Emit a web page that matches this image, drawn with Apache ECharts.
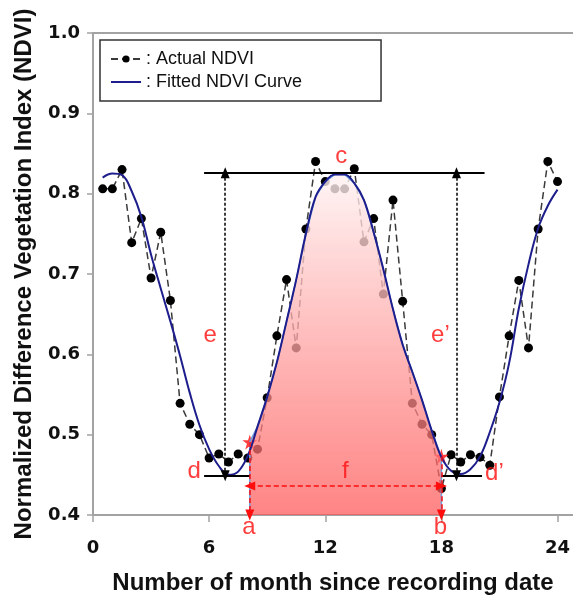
<!DOCTYPE html>
<html>
<head>
<meta charset="utf-8">
<script src="https://cdn.jsdelivr.net/npm/echarts@6/dist/echarts.min.js"></script>
<style>
  html, body { margin: 0; padding: 0; background: #fff; }
  #chart { width: 573px; height: 596px; }
</style>
</head>
<body>
<div id="chart"></div>
<script>
// months since recording date (half-month steps)
const months = [0.5, 1, 1.5, 2, 2.5, 3, 3.5, 4, 4.5, 5, 5.5, 6,
  6.5, 7, 7.5, 8, 8.5, 9, 9.5, 10, 10.5, 11, 11.5, 12,
  12.5, 13, 13.5, 14, 14.5, 15, 15.5, 16, 16.5, 17, 17.5, 18,
  18.5, 19, 19.5, 20, 20.5, 21, 21.5, 22, 22.5, 23, 23.5, 24];

// actual NDVI (black dots)
const actualNdvi = [0.806, 0.806, 0.830, 0.739, 0.769, 0.695, 0.752, 0.667, 0.539, 0.513, 0.500, 0.471,
  0.476, 0.466, 0.476, 0.471, 0.482, 0.546, 0.623, 0.693, 0.608, 0.756, 0.840, 0.815,
  0.806, 0.806, 0.831, 0.740, 0.769, 0.675, 0.792, 0.666, 0.539, 0.513, 0.500, 0.433,
  0.475, 0.466, 0.475, 0.472, 0.462, 0.547, 0.623, 0.692, 0.608, 0.756, 0.840, 0.815];

// fitted NDVI curve
const fittedNdvi = [0.820, 0.825, 0.823, 0.803, 0.771, 0.724, 0.682, 0.641, 0.598, 0.552, 0.512, 0.482,
  0.461, 0.450, 0.454, 0.474, 0.510, 0.547, 0.590, 0.641, 0.693, 0.750, 0.796, 0.815,
  0.824, 0.824, 0.813, 0.792, 0.752, 0.706, 0.656, 0.612, 0.578, 0.543, 0.505, 0.472,
  0.455, 0.451, 0.457, 0.473, 0.503, 0.540, 0.589, 0.657, 0.712, 0.757, 0.785, 0.805];

// season markers
const seasonStart = 8.1;      // a
const seasonEnd = 18;         // b
const startNdvi = 0.491;      // star at a
const endNdvi = 0.473;        // star at b
const peakNdvi = 0.826;       // c
const baseNdvi = 0.449;       // d, d'
const amplitudeLeft = 6.83;   // e
const amplitudeRight = 18.78; // e'
const lengthNdvi = 0.436;     // f arrow

const labelNames = ['c', 'e', 'e\u2019', 'd', 'd\u2019', 'f', 'a', 'b'];
const labelMonths = [12.83, 6.06, 17.95, 5.23, 20.74, 13.04, 8.05, 17.95];
const labelNdvi = [0.847, 0.623, 0.623, 0.454, 0.452, 0.454, 0.385, 0.385];

const yTicks = [0.4, 0.5, 0.6, 0.7, 0.8, 0.9, 1.0];

const red = '#ff0d0d';
const navy = '#1d1d8c';
const axisGray = '#a3a3a3';

// fill polygon for the growing season under the fitted curve
const fillData = [[seasonStart, yTicks[0]], [seasonStart, startNdvi]];
months.forEach((m, i) => {
  if (m > seasonStart && m <= seasonEnd) fillData.push([m, fittedNdvi[i]]);
});
fillData.push([seasonEnd, yTicks[0]]);

function seg(x1, y1, x2, y2, s1, s2) {
  return [{ coord: [x1, y1], symbol: s1 || 'none' }, { coord: [x2, y2], symbol: s2 || 'none' }];
}

const chart = echarts.init(document.getElementById('chart'));
chart.setOption({
  animation: false,
  grid: { left: 93, right: 0, top: 33, bottom: 81, containLabel: false, outerBoundsMode: 'none' },
  legend: {
    data: [
      { name: 'Actual NDVI' },
      { name: 'Fitted NDVI Curve', icon: 'path://M0,0 L30,0 L30,2 L0,2 Z' }
    ],
    orient: 'vertical',
    left: 100,
    top: 40,
    padding: [10, 79, 10, 10],
    itemWidth: 30,
    itemHeight: 9,
    itemGap: 5,
    borderColor: '#333',
    borderWidth: 1.5,
    formatter: ': {name}',
    textStyle: { fontFamily: 'Liberation Sans', fontSize: 18, color: '#111' }
  },
  xAxis: [{
    type: 'value',
    min: 0,
    max: 24.8,
    interval: 6,
    name: 'Number of month since recording date',
    nameLocation: 'middle',
    nameGap: 56,
    nameTextStyle: { fontFamily: 'Liberation Sans', fontWeight: 'bold', fontSize: 24, color: '#111' },
    axisLine: { lineStyle: { color: axisGray, width: 2 } },
    axisTick: { length: 7, lineStyle: { color: axisGray, width: 1.5 } },
    axisLabel: { showMaxLabel: false, margin: 24, fontFamily: 'DejaVu Sans', fontWeight: 'bold', fontSize: 18, color: '#111' },
    splitLine: { show: false }
  }, {
    type: 'value',
    position: 'top',
    min: 0,
    max: 24.8,
    axisLine: { show: true, lineStyle: { color: axisGray, width: 2 } },
    axisTick: { show: false },
    axisLabel: { show: false },
    splitLine: { show: false }
  }],
  yAxis: {
    type: 'value',
    min: yTicks[0],
    max: yTicks[yTicks.length - 1],
    interval: 0.1,
    name: 'Normalized Difference Vegetation Index (NDVI)',
    nameLocation: 'middle',
    nameGap: 57,
    nameTextStyle: { fontFamily: 'Liberation Sans', fontWeight: 'bold', fontSize: 24, color: '#111' },
    axisLine: { show: true, lineStyle: { color: axisGray, width: 2 } },
    axisTick: { show: true, length: 6, lineStyle: { color: axisGray, width: 1.5 } },
    axisLabel: { margin: 13, formatter: v => v.toFixed(1), fontFamily: 'DejaVu Sans', fontWeight: 'bold', fontSize: 18, color: '#111' },
    splitLine: { show: false }
  },
  series: [
    {
      name: 'Actual NDVI',
      type: 'line',
      z: 2,
      data: months.map((m, i) => [m, actualNdvi[i]]),
      symbol: 'circle',
      symbolSize: 9,
      itemStyle: { color: '#000' },
      lineStyle: { color: '#3a3a3a', width: 1.5, type: [7, 4] }
    },
    {
      name: 'stars',
      type: 'scatter',
      z: 2,
      data: [[seasonStart, startNdvi], [seasonEnd, endNdvi]],
      symbol: 'path://M50,0 L61,35 L98,35 L68,57 L79,91 L50,70 L21,91 L32,57 L2,35 L39,35 Z',
      symbolSize: 15,
      itemStyle: { color: red }
    },
    {
      name: 'season',
      type: 'line',
      z: 3,
      silent: true,
      data: fillData,
      symbol: 'none',
      lineStyle: { color: '#6f9fe0', width: 1.5 },
      areaStyle: {
        opacity: 1,
        color: {
          type: 'linear', x: 0, y: 0, x2: 0, y2: 1,
          colorStops: [
            { offset: 0, color: 'rgba(255,242,242,0.8)' },
            { offset: 1, color: 'rgba(255,85,85,0.72)' }
          ]
        }
      }
    },
    {
      name: 'Fitted NDVI Curve',
      type: 'line',
      z: 4,
      data: months.map((m, i) => [m, fittedNdvi[i]]),
      smooth: 0.4,
      symbol: 'none',
      itemStyle: { color: navy },
      lineStyle: { color: navy, width: 2 }
    },
    {
      name: 'black marks',
      type: 'line',
      z: 5,
      data: [],
      markLine: {
        silent: true,
        animation: false,
        label: { show: false },
        lineStyle: { color: '#000', width: 2, type: 'solid' },
        data: [
          seg(5.74, peakNdvi, 20.23, peakNdvi),
          seg(5.74, baseNdvi, seasonStart, baseNdvi),
          seg(seasonEnd, baseNdvi, 20.1, baseNdvi)
        ]
      }
    },
    {
      name: 'amplitude marks',
      type: 'line',
      z: 5,
      data: [],
      markLine: {
        silent: true,
        animation: false,
        symbolSize: [9, 11],
        label: { show: false },
        lineStyle: { color: '#000', width: 1.5, type: [3, 2] },
        data: [
          seg(amplitudeLeft, baseNdvi, amplitudeLeft, peakNdvi, 'triangle', 'triangle'),
          seg(amplitudeRight, baseNdvi, amplitudeRight, peakNdvi, 'triangle', 'triangle')
        ]
      }
    },
    {
      name: 'red marks',
      type: 'line',
      z: 5,
      data: [],
      markLine: {
        silent: true,
        animation: false,
        symbolSize: [9, 11],
        label: { show: false },
        lineStyle: { color: red, width: 1.5, type: [5, 3] },
        data: [
          seg(seasonStart, lengthNdvi, seasonEnd, lengthNdvi, 'triangle', 'triangle'),
          seg(seasonStart, startNdvi, seasonStart, yTicks[0], 'none', 'triangle'),
          seg(seasonEnd, endNdvi, seasonEnd, yTicks[0], 'none', 'triangle')
        ]
      }
    },
    {
      name: 'labels',
      type: 'scatter',
      z: 6,
      silent: true,
      clip: false,
      symbolSize: 0,
      data: labelNames.map((n, i) => ({ name: n, value: [labelMonths[i], labelNdvi[i]] })),
      label: {
        show: true,
        position: 'inside',
        formatter: p => p.name,
        fontFamily: 'Liberation Sans',
        fontSize: 24,
        color: red
      }
    }
  ]
});
</script>
</body>
</html>
